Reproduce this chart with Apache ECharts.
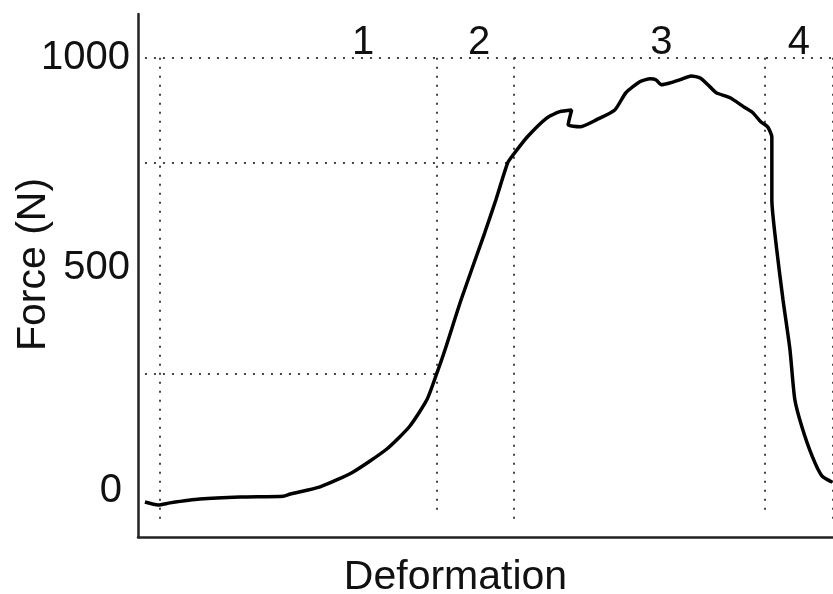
<!DOCTYPE html>
<html>
<head>
<meta charset="utf-8">
<script src="https://cdn.jsdelivr.net/npm/echarts@6/dist/echarts.min.js"></script>
<style>
  html, body { margin: 0; padding: 0; background: #fff; }
  #chart { width: 833px; height: 594px; }
</style>
</head>
<body>
<div id="chart"></div>
<script>
// Force–deformation trace (deformation in arbitrary units, force in N)
const deformation = [
  1.0, 2.9, 4.6, 8.9, 14.7, 20.9, 21.9, 26.2, 30.9, 35.8, 39.1, 41.6, 43.0,
  44.2, 46.5, 49.9, 51.5, 53.2, 54.0, 56.0, 58.8, 60.7, 62.4, 61.9, 63.6,
  66.0, 68.6, 70.2, 72.2, 73.7, 74.5, 75.3, 76.5, 78.0, 79.6, 80.9, 82.3,
  83.2, 85.2, 87.1, 88.5, 89.6, 90.6, 91.2, 91.2, 91.2, 91.9, 92.8, 93.8,
  94.5, 95.5, 97.0, 98.4, 99.9
];
const force = [
  -55, -62, -57, -48, -43, -41, -36, -19, 16, 71, 125, 189, 251,
  308, 426, 585, 663, 751, 770, 812, 857, 872, 876, 841, 836,
  853, 876, 917, 943, 950, 948, 936, 940, 948, 957, 952, 931,
  917, 905, 884, 869, 848, 836, 812, 741, 663, 545, 426, 308,
  189, 125, 54, 7, -8
];

// Y-axis tick labels
const forceTicks = [0, 500, 1000];

// Dotted reference levels and where each one stops along the deformation axis
const guideForces = [1000, 750, 250];
const guideForceEnds = [100, 53.2, 43.0];
const guideStart = 1.0;

// Dotted phase boundaries and the force at which each one stops at the bottom
const guideDeformations = [3.2, 43.0, 54.0, 90.2, 99.9];
const guideDeformationBottoms = [-107, -79, -100, -83, -102];

// Phase numbers written along the top of the plot
const phaseNames = ['1', '2', '3', '4'];
const phaseDeformation = [32.4, 49.1, 75.3, 95.1];
const phaseForce = 1035;

const FONT = '"Liberation Sans", Arial, Helvetica, sans-serif';
const dotted = { type: [2, 7], color: '#444', width: 2 };

const guideLines = [];
guideForces.forEach((f, i) => {
  guideLines.push([{ coord: [guideStart, f] }, { coord: [guideForceEnds[i], f] }]);
});
guideDeformations.forEach((d, i) => {
  guideLines.push([{ coord: [d, 1000] }, { coord: [d, guideDeformationBottoms[i]] }]);
});

const chart = echarts.init(document.getElementById('chart'), null, { renderer: 'canvas' });
chart.setOption({
  animation: false,
  backgroundColor: '#fff',
  grid: { left: 138, right: 0, top: 14, bottom: 57, outerBoundsMode: 'none', containLabel: false },
  xAxis: {
    type: 'value',
    min: 0,
    max: 100,
    name: 'Deformation',
    nameLocation: 'middle',
    nameGap: 20,
    nameMoveOverlap: false,
    nameTextStyle: { fontFamily: FONT, fontSize: 41, color: '#111', padding: [0, 60, 0, 0] },
    axisLine: { onZero: false, lineStyle: { color: '#222', width: 2.5 } },
    axisTick: { show: false },
    axisLabel: { show: false },
    splitLine: { show: false }
  },
  yAxis: {
    type: 'value',
    min: -138,
    max: 1104,
    name: 'Force (N)',
    nameLocation: 'middle',
    nameGap: 84,
    nameMoveOverlap: false,
    nameTextStyle: { fontFamily: FONT, fontSize: 41, color: '#111', padding: [0, 0, 0, 22] },
    axisLine: { show: true, onZero: false, lineStyle: { color: '#222', width: 2.5 } },
    axisTick: { show: false },
    splitLine: { show: false },
    axisLabel: {
      customValues: forceTicks,
      margin: 8,
      fontFamily: FONT,
      fontSize: 40,
      color: '#111',
      formatter: v => (v === 0 ? '{z|0}' : String(v)),
      rich: {
        z: { fontFamily: FONT, fontSize: 40, color: '#111', padding: [24, 8, 0, 0] }
      }
    }
  },
  series: [
    {
      type: 'line',
      data: deformation.map((d, i) => [d, force[i]]),
      showSymbol: false,
      smooth: 0.2,
      lineStyle: { color: '#000', width: 3.5 },
      z: 3,
      markLine: {
        silent: true,
        symbol: ['none', 'none'],
        label: { show: false },
        lineStyle: dotted,
        data: guideLines,
        z: 1
      }
    },
    {
      type: 'scatter',
      silent: true,
      symbolSize: 0,
      itemStyle: { opacity: 1, color: '#000' },
      data: phaseNames.map((n, i) => ({ name: n, value: [phaseDeformation[i], phaseForce] })),
      label: {
        show: true,
        position: 'inside',
        formatter: p => p.name,
        fontFamily: FONT,
        fontSize: 40,
        color: '#111',
        opacity: 1
      },
      z: 4
    }
  ]
});
</script>
</body>
</html>
